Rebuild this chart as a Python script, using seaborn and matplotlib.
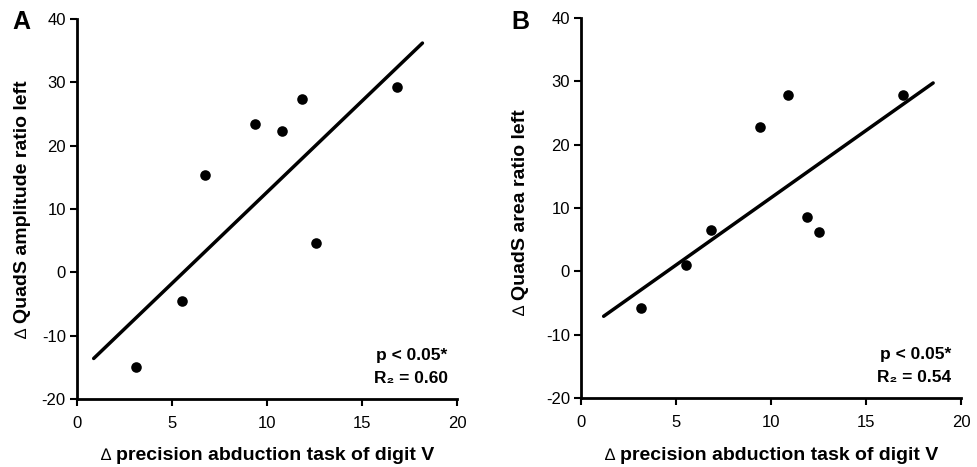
import numpy as np
import pandas as pd
import matplotlib
matplotlib.use("Agg")
import matplotlib.pyplot as plt
import seaborn as sns

# ---- data ----
x_a = [3.12, 5.54, 6.75, 9.39, 10.79, 11.84, 12.56, 16.82]
y_a = [-14.95, -4.47, 15.3, 23.35, 22.35, 27.4, 4.7, 29.3]
fit_x_a = [0.88, 18.18]
fit_y_a = [-13.6, 36.2]

x_b = [3.16, 5.53, 6.84, 9.44, 10.89, 11.89, 12.53, 16.93]
y_b = [-5.84, 1.05, 6.58, 22.74, 27.84, 8.63, 6.21, 27.84]
fit_x_b = [1.19, 18.53]
fit_y_b = [-7.1, 29.74]

xticks = [0, 5, 10, 15, 20]
yticks = [-20, -10, 0, 10, 20, 30, 40]
xlabel = "precision abduction task of digit V"
ylabels = ["QuadS amplitude ratio left", "QuadS area ratio left"]
panel_letters = ["A", "B"]
p_texts = ["p < 0.05*", "p < 0.05*"]
r2_values = ["0.60", "0.54"]

sns.set_style("ticks")
plt.rcParams['font.family'] = ['Liberation Sans', 'DejaVu Sans']
plt.rcParams['axes.unicode_minus'] = False
plt.rcParams['text.color'] = 'black'

fig = plt.figure(figsize=(9.78, 4.67), dpi=100)
ax_pos = [[0.0787, 0.1456, 0.3886, 0.8137],
          [0.5941, 0.1478, 0.3886, 0.8137]]
ylab_x = [23 / 978, (490 + 31) / 978]
ylab_y = [1 - 202 / 467, 1 - 205 / 467]
letter_x = [12 / 978, (490 + 21) / 978]

datasets = [(x_a, y_a, fit_x_a, fit_y_a), (x_b, y_b, fit_x_b, fit_y_b)]

for i, (xs, ys, fx, fy) in enumerate(datasets):
    ax = fig.add_axes(ax_pos[i])
    df = pd.DataFrame({"x": xs, "y": ys})
    sns.scatterplot(data=df, x="x", y="y", ax=ax, color="black", s=58,
                    edgecolor="black", linewidth=0, zorder=3)
    dfl = pd.DataFrame({"x": fx, "y": fy})
    sns.lineplot(data=dfl, x="x", y="y", ax=ax, color="black", lw=2.5)
    ax.set_xlim(0, 20)
    ax.set_ylim(-20, 40)
    ax.set_xticks(xticks)
    ax.set_yticks(yticks)
    ax.tick_params(axis="both", direction="out", length=5, width=1.5,
                   labelsize=12, colors="black", pad=3)
    ax.tick_params(axis="x", pad=7)
    for s in ["left", "bottom"]:
        ax.spines[s].set_linewidth(2)
        ax.spines[s].set_color("black")
    sns.despine(ax=ax)
    ax.set_xlabel("")
    ax.set_ylabel("")

    # x label: thin delta + bold text
    cx = ax_pos[i][0] + ax_pos[i][2] / 2 + 0.008
    t = fig.text(cx, 1 - 455 / 467, xlabel, fontsize=14, fontweight="bold",
                 ha="center", va="center")
    ax.annotate("\u2206 ", xy=(0, 0.45), xycoords=t, fontsize=12,
                ha="right", va="center", fontweight="normal",
                annotation_clip=False)
    # y label: rotated
    ty = fig.text(ylab_x[i], ylab_y[i], ylabels[i], fontsize=14,
                  fontweight="bold", rotation=90, ha="center", va="center")
    ax.annotate("\u2206 ", xy=(0.45, 0), xycoords=ty, fontsize=12,
                rotation=90, ha="center", va="top", fontweight="normal",
                annotation_clip=False)
    fig.text(letter_x[i], 1 - 22 / 467, panel_letters[i], fontsize=18,
             fontweight="bold", ha="left", va="center")
    ax.text(19.5, -13.1, p_texts[i], fontsize=12.5, fontweight="bold",
            ha="right", va="center")
    ax.text(19.5, -16.8, "R\u2082 = " + r2_values[i], fontsize=12.5,
            fontweight="bold", ha="right", va="center")

fig.savefig("out.png", dpi=100)
